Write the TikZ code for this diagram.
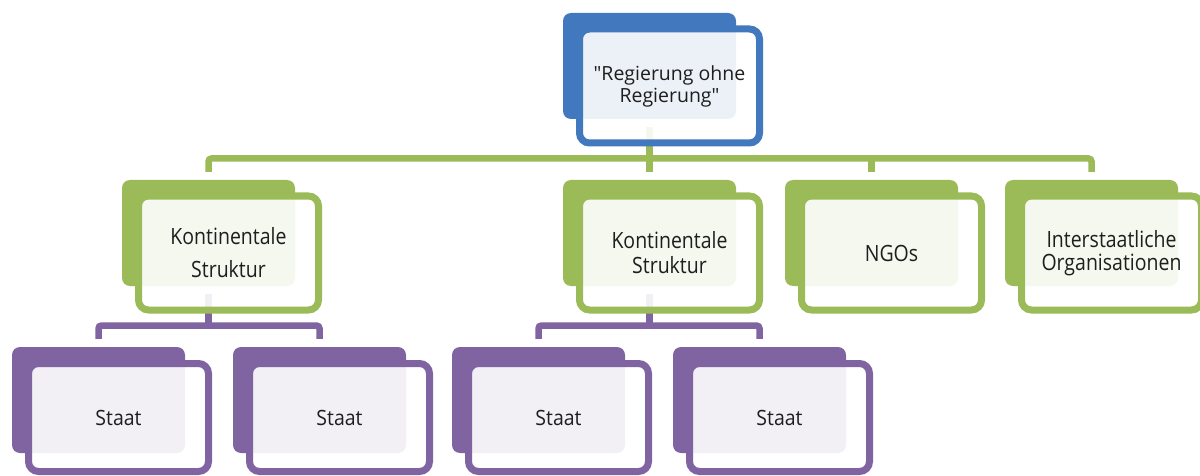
\documentclass[tikz,border=0pt]{standalone}
\usepackage{fontspec}
\setmainfont{Open Sans}
\usepackage{graphicx}
\usetikzlibrary{calc}
\definecolor{cblue}{HTML}{4178BE}
\definecolor{cgreen}{HTML}{9BBB59}
\definecolor{cpurple}{HTML}{8064A2}
\definecolor{ctext}{HTML}{1E1E1E}
\newcommand{\vst}[2]{\scalebox{1}[#1]{#2}}
\pgfdeclarelayer{bg}
\pgfsetlayers{bg,main}
\begin{document}
\begin{tikzpicture}[x=1pt,y=-1pt,
  back/.style={rectangle, rounded corners=8pt, minimum width=173pt, minimum height=106pt, inner sep=0pt, fill=#1},
  front/.style={rectangle, rounded corners=10pt, minimum width=180pt, minimum height=114pt, inner sep=0pt,
    draw=#1, line width=7pt, fill=white, fill opacity=0.9, text opacity=1, text=ctext, align=center,
    font=\fontsize{19.5}{22}\selectfont},
  pfront/.style={front=#1, minimum height=108pt},
  conn/.style={line width=6.5pt, rounded corners=3pt, draw=#1},
]
\useasboundingbox (0,0) rectangle (1200,476);
\coordinate (gbus) at (0,158.5);
\coordinate (pbus) at (0,325.5);

% top
\node[back=cblue] (b0) at (649.5,66) {};
\node[front=cblue] (f0) at ($(b0)+(20,20)$) {\vst{1}{\textquotedbl Regierung ohne}\\\vst{1}{Regierung\textquotedbl}};

% green row
\node[back=cgreen] (g1) at (208.5,233) {};
\node[front=cgreen] (fg1) at ($(g1)+(20,20)$) {\vst{1.15}{Kontinentale}\\[11pt]\vst{1.15}{Struktur}};
\node[back=cgreen] (g2) at (649.5,233) {};
\node[front=cgreen] (fg2) at ($(g2)+(20,20)$) {\vst{1.15}{Kontinentale}\\[3pt]\vst{1.15}{Struktur}};
\node[back=cgreen] (g3) at (871.5,233) {};
\node[front=cgreen] (fg3) at ($(g3)+(20,20)$) {\vst{1.15}{NGOs}};
\node[back=cgreen] (g4) at (1091.5,233) {};
\node[front=cgreen] (fg4) at ($(g4)+(20,20)$) {\vst{1.15}{Interstaatliche}\\[1.5pt]\vst{1.15}{Organisationen}};

% purple row
\node[back=cpurple] (p1) at (98.5,400) {};
\node[pfront=cpurple] (fp1) at ($(p1)+(20,17.5)$) {\vst{1.08}{Staat}};
\node[back=cpurple] (p2) at (319.5,400) {};
\node[pfront=cpurple] (fp2) at ($(p2)+(20,17.5)$) {\vst{1.08}{Staat}};
\node[back=cpurple] (p3) at (538.5,400) {};
\node[pfront=cpurple] (fp3) at ($(p3)+(20,17.5)$) {\vst{1.08}{Staat}};
\node[back=cpurple] (p4) at (759.5,400) {};
\node[pfront=cpurple] (fp4) at ($(p4)+(20,17.5)$) {\vst{1.08}{Staat}};

\begin{pgfonlayer}{bg}
  \draw[conn=cgreen] ($(g1.north)+(0,-8)$) -- (g1.north |- gbus) -- (g4.north |- gbus) -- ($(g4.north)+(0,-8)$);
  \draw[conn=cgreen] ($(b0.south)+(0,8)$) -- ($(g2.north)+(0,-8)$);
  \draw[conn=cgreen] (g3.north |- gbus) -- ($(g3.north)+(0,-8)$);
  \draw[conn=cpurple] ($(p1.north)+(0,-8)$) -- (p1.north |- pbus) -- (p2.north |- pbus) -- ($(p2.north)+(0,-8)$);
  \draw[conn=cpurple] ($(g1.south)+(0,8)$) -- (g1.south |- pbus);
  \draw[conn=cpurple] ($(p3.north)+(0,-8)$) -- (p3.north |- pbus) -- (p4.north |- pbus) -- ($(p4.north)+(0,-8)$);
  \draw[conn=cpurple] ($(g2.south)+(0,8)$) -- (g2.south |- pbus);
\end{pgfonlayer}
\end{tikzpicture}
\end{document}
